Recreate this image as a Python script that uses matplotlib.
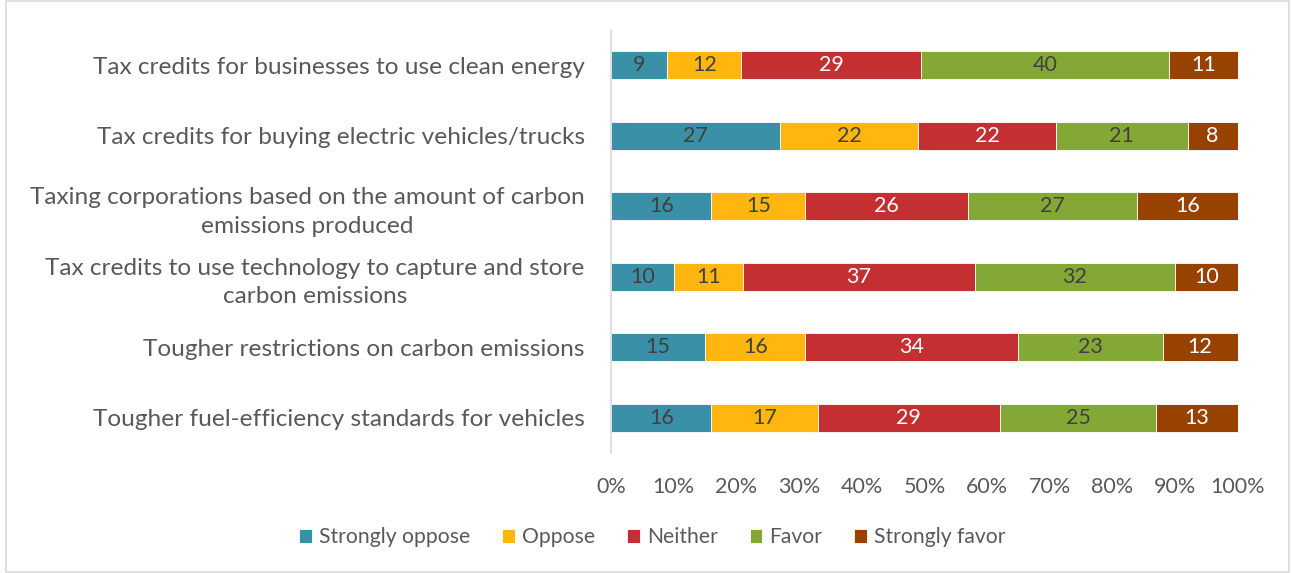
import matplotlib.pyplot as plt
from matplotlib.patches import Rectangle
import numpy as np

plt.rcParams['font.family'] = ['Lato', 'DejaVu Sans']

# ---------- DATA ----------
categories = [
    "Tax credits for businesses to use clean energy",
    "Tax credits for buying electric vehicles/trucks",
    "Taxing corporations based on the amount of carbon\nemissions produced",
    "Tax credits to use technology to capture and store\ncarbon emissions",
    "Tougher restrictions on carbon emissions",
    "Tougher fuel-efficiency standards for vehicles",
]
series_names = ["Strongly oppose", "Oppose", "Neither", "Favor", "Strongly favor"]
strongly_oppose = [9, 27, 16, 10, 15, 16]
oppose = [12, 22, 15, 11, 16, 17]
neither = [29, 22, 26, 37, 34, 29]
favor = [40, 21, 27, 32, 23, 25]
strongly_favor = [11, 8, 16, 10, 12, 13]
x_ticks = [0, 10, 20, 30, 40, 50, 60, 70, 80, 90, 100]

colors = ["#3A91A7", "#FFB70F", "#C42F31", "#84A835", "#974200"]
text_colors = ["#404040", "#404040", "white", "#404040", "white"]

# ---------- CHART ----------
values = np.array([strongly_oppose, oppose, neither, favor, strongly_favor], dtype=float)
shares = values / values.sum(axis=0) * 100

fig = plt.figure(figsize=(12.92, 5.73), dpi=100)
ax = fig.add_axes([0.473, 0.209, 0.485, 0.739])

y = np.arange(len(categories))
left = np.zeros(len(categories))
for i, name in enumerate(series_names):
    bars = ax.barh(y, shares[i], left=left, height=0.4, color=colors[i],
                   label=name, edgecolor="white", linewidth=0.6)
    ax.bar_label(bars, labels=[str(int(v)) for v in values[i]], label_type="center",
                 color=text_colors[i], fontsize=15.5)
    left += shares[i]

ax.set_xlim(0, 100)
ax.set_ylim(len(categories) - 0.5, -0.5)
ax.set_yticks(y)
ax.set_yticklabels(categories, multialignment="center", linespacing=1.45)
ax.set_xticks(x_ticks)
ax.set_xticklabels([f"{t}%" for t in x_ticks])
ax.tick_params(axis="y", length=0, pad=19, labelsize=17.6, labelcolor="#595959")
ax.tick_params(axis="x", length=0, pad=17, labelsize=15.5, labelcolor="#595959")

for side in ["top", "right", "bottom"]:
    ax.spines[side].set_visible(False)
ax.spines["left"].set_color("#D9D9D9")
ax.spines["left"].set_linewidth(1.2)

leg = fig.legend(loc="center", bbox_to_anchor=(0.505, 0.062), ncol=5, frameon=False,
                 fontsize=15.2, handlelength=0.6, handleheight=0.6, handletextpad=0.35,
                 columnspacing=1.5)
for t in leg.get_texts():
    t.set_color("#595959")

# light border around the chart area
fig.patches.append(Rectangle((0.005, 0.002), 0.993, 0.996, transform=fig.transFigure,
                             fill=False, edgecolor="#D9D9D9", linewidth=1.2))

fig.savefig("out.png", dpi=100)
